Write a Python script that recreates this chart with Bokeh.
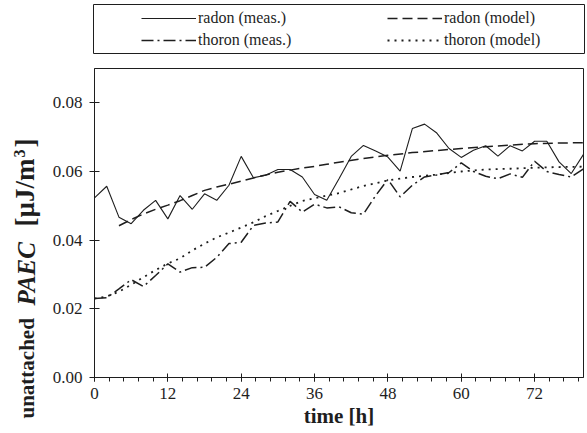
from math import pi
from bokeh.plotting import figure
from bokeh.models import (Range1d, SingleIntervalTicker, FixedTicker, PrintfTickFormatter,
                          Legend, LegendItem, Label)
from bokeh.layouts import column, row
from bokeh.embed import file_html
from bokeh.resources import INLINE

# ---------------- data ----------------
t_meas = list(range(0, 82, 2))
radon_meas = [0.0523, 0.0557, 0.0467, 0.0448, 0.0487, 0.0516, 0.0462, 0.0530, 0.0490, 0.0535,
              0.0516, 0.0560, 0.0644, 0.0582, 0.0589, 0.0606, 0.0606, 0.0584, 0.0533, 0.0516,
              0.0579, 0.0644, 0.0676, 0.0660, 0.0642, 0.0601, 0.0725, 0.0738, 0.0712, 0.0667,
              0.0641, 0.0662, 0.0675, 0.0645, 0.0675, 0.0660, 0.0688, 0.0688, 0.0628, 0.0594,
              0.0650]
thoron_meas = [0.0230, 0.0232, 0.0258, 0.0285, 0.0265, 0.0297, 0.0331, 0.0307, 0.0320, 0.0321,
               0.0350, 0.0390, 0.0394, 0.0443, 0.0450, 0.0453, 0.0513, 0.0482, 0.0505, 0.0494,
               0.0497, 0.0480, 0.0476, 0.0530, 0.0577, 0.0526, 0.0560, 0.0584, 0.0590, 0.0597,
               0.0625, 0.0600, 0.0586, 0.0579, 0.0593, 0.0583, 0.0630, 0.0600, 0.0591, 0.0584,
               0.0608]
t_radon_model = [4, 6, 8, 10, 12, 14, 16, 18, 20, 22, 24, 26, 28, 30, 32, 34, 36, 38, 40,
                 44, 48, 52, 56, 60, 64, 68, 72, 76, 80]
radon_model = [0.0442, 0.0460, 0.0476, 0.0490, 0.0502, 0.0515, 0.0530, 0.0545, 0.0555, 0.0563,
               0.0572, 0.0581, 0.0590, 0.0598, 0.0604, 0.0610, 0.0615, 0.0621, 0.0627,
               0.0638, 0.0647, 0.0655, 0.0661, 0.0667, 0.0672, 0.0677, 0.0681, 0.0683, 0.0684]
t_thoron_model = [0, 2, 4, 6, 8, 10, 12, 14, 16, 18, 20, 22, 24, 26, 28, 30, 32, 34, 36, 38, 40,
                  44, 48, 52, 56, 60, 64, 68, 72, 76, 80]
thoron_model = [0.0230, 0.0236, 0.0250, 0.0270, 0.0292, 0.0313, 0.0332, 0.0347, 0.0370, 0.0390,
                0.0408, 0.0422, 0.0437, 0.0452, 0.0470, 0.0485, 0.0500, 0.0514, 0.0522, 0.0530,
                0.0537, 0.0558, 0.0574, 0.0584, 0.0591, 0.0600, 0.0606, 0.0608, 0.0611, 0.0613,
                0.0614]
y_ticks = [0.0, 0.02, 0.04, 0.06, 0.08]
x_tick_interval = 12
legend_labels = ["radon (meas.)", "radon (model)", "thoron (meas.)", "thoron (model)"]
x_label = "time [h]"
y_label_parts = ["unattached", "PAEC", "[\u00b5J/m", "3", "]"]

# ---------------- styling ----------------
FONT = "Liberation Serif"
INK = "#1e1e1e"
styles = {
    "radon (meas.)": dict(line_dash="solid", line_width=1.1),
    "radon (model)": dict(line_dash="10 5", line_width=1.5),
    "thoron (meas.)": dict(line_dash="12 4 2 4", line_width=1.5),
    "thoron (model)": dict(line_dash="2 5", line_width=1.8),
}

W = 585
LEG_H = 54
MAIN_H = 377
YL_W = 44                      # strip holding the rotated y label
ML, MR, MT, MB = 94, 2, 14, 54
X0, X1, Y0, Y1 = 0, 80, 0, 0.09


def no_align(fig):
    try:
        fig.frame_align = False
    except Exception:
        pass


# ---------------- main plot ----------------
p = figure(width=W - YL_W, height=MAIN_H, x_range=Range1d(X0, X1), y_range=Range1d(Y0, Y1),
           output_backend="svg", toolbar_location=None,
           min_border_left=ML - YL_W, min_border_right=MR, min_border_top=MT, min_border_bottom=MB)
no_align(p)
p.grid.visible = False
p.outline_line_color = INK
p.outline_line_width = 1
p.background_fill_color = "white"
p.border_fill_color = "white"

p.line(t_meas, radon_meas, line_color=INK, **styles["radon (meas.)"])
p.line(t_radon_model, radon_model, line_color=INK, **styles["radon (model)"])
p.line(t_meas, thoron_meas, line_color=INK, **styles["thoron (meas.)"])
p.line(t_thoron_model, thoron_model, line_color=INK, **styles["thoron (model)"])

xa = p.xaxis[0]
xa.ticker = SingleIntervalTicker(interval=x_tick_interval, num_minor_ticks=5)
xa.axis_label = x_label
xa.axis_label_text_font = FONT
xa.axis_label_text_font_size = "21px"
xa.axis_label_text_font_style = "bold"
xa.axis_label_text_color = INK
xa.axis_label_standoff = 2
xa.major_label_text_font = FONT
xa.major_label_text_font_size = "17px"
xa.major_label_text_color = INK
xa.major_label_standoff = 6
xa.major_tick_in = 4
xa.major_tick_out = 4
xa.minor_tick_in = 0
xa.minor_tick_out = 4
xa.axis_line_color = INK
xa.major_tick_line_color = INK
xa.minor_tick_line_color = INK

ya = p.yaxis[0]
ya.ticker = FixedTicker(ticks=y_ticks)
ya.formatter = PrintfTickFormatter(format="%.2f")
ya.major_label_text_font = FONT
ya.major_label_text_font_size = "17px"
ya.major_label_text_color = INK
ya.major_label_standoff = 7
ya.major_tick_in = 5
ya.major_tick_out = 5
ya.minor_tick_line_color = None
ya.axis_line_color = INK
ya.major_tick_line_color = INK

# ---------------- y label strip (pixel coordinates, y measured from the top) ----------------
yl = figure(width=YL_W, height=MAIN_H, x_range=Range1d(0, YL_W), y_range=Range1d(MAIN_H, 0),
            output_backend="svg", toolbar_location=None,
            x_axis_location=None, y_axis_location=None,
            min_border_left=0, min_border_right=0, min_border_top=0, min_border_bottom=0)
no_align(yl)
yl.grid.visible = False
yl.outline_line_color = None

# (style, size px, image-y where the piece starts, baseline image-x)
piece_fmt = [
    ("bold", 21, 418, 33),
    ("bold italic", 25, 305, 33),
    ("bold", 27, 226, 33),
    ("bold", 16, 157, 24),
    ("bold", 27, 147, 33),
]
for txt, (style, size, iy, bx) in zip(y_label_parts, piece_fmt):
    yl.add_layout(Label(x=bx - 0.3 * size, y=iy - LEG_H, angle=pi / 2,
                        text=txt, text_font=FONT, text_font_style=style,
                        text_font_size=f"{size}px", text_color=INK,
                        text_baseline="middle", text_align="left"))

# ---------------- legend strip ----------------
lg = figure(width=W, height=LEG_H, x_range=Range1d(0, 1), y_range=Range1d(0, 1),
            output_backend="svg", toolbar_location=None,
            x_axis_location=None, y_axis_location=None,
            min_border_left=ML - 1, min_border_right=MR - 1, min_border_top=4, min_border_bottom=0)
no_align(lg)
lg.grid.visible = False
lg.outline_line_color = INK
lg.outline_line_width = 1
# legend proxies: drawn outside the visible range of the strip
rend = {lab: lg.line([-5, -4], [-5, -4], line_color=INK, **styles[lab]) for lab in legend_labels}

def make_legend(labels, loc):
    return Legend(items=[LegendItem(label=l, renderers=[rend[l]]) for l in labels],
                  location=loc, orientation="vertical",
                  border_line_color=None, background_fill_alpha=0,
                  padding=0, margin=0, spacing=2,
                  glyph_width=55, glyph_height=20, label_height=20, label_standoff=2,
                  label_text_font=FONT, label_text_font_size="16px", label_text_color=INK)

lg.add_layout(make_legend([legend_labels[0], legend_labels[2]], (48, 4)))
lg.add_layout(make_legend([legend_labels[1], legend_labels[3]], (294, 4)))

layout = column(lg, row(yl, p, spacing=0), spacing=0)
open("out.html", "w").write(file_html(layout, INLINE))
